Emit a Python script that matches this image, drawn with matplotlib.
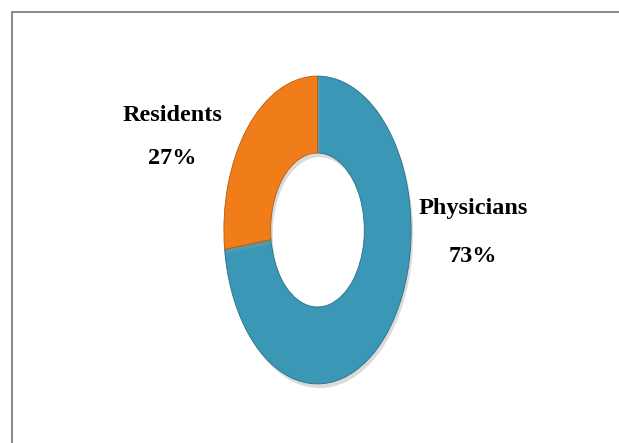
import matplotlib
matplotlib.use("Agg")
import matplotlib.pyplot as plt
from matplotlib.patches import Rectangle
import matplotlib.patheffects as pe

W, H = 619, 443

groups = ["Physicians", "Residents"]
shares = [73, 27]
colors = ["#3a97b6", "#f07d1a"]

fig = plt.figure(figsize=(W / 100, H / 100), dpi=100)

# frame drawn around the chart area
fig.patches.append(Rectangle((12 / W, -0.05), 1.1, 1 - 12 / H + 0.05,
                             transform=fig.transFigure, fill=False,
                             edgecolor="#8c8c8c", linewidth=1.5))

# donut is stretched vertically, so the axes box sets its shape
ax = fig.add_axes([222 / W, 56 / H, 191 / W, 314 / H])
wedges, _ = ax.pie(shares, colors=colors, startangle=90, counterclock=False,
                   radius=1.0,
                   wedgeprops=dict(width=0.5, edgecolor="#2a6f86", linewidth=0.6))
wedges[1].set_edgecolor("#b85c10")
for w in wedges:
    w.set_path_effects([pe.SimplePatchShadow(offset=(1.5, -3), shadow_rgbFace="#999999",
                                             alpha=0.35), pe.Normal()])
ax.set_aspect("auto")
ax.set_xlim(-1.02, 1.02)
ax.set_ylim(-1.02, 1.02)
ax.axis("off")

font = dict(family="Liberation Serif", fontweight="bold", fontsize=17.5,
            ha="center", va="baseline", color="black")

label_pos = {"Residents": (172, 121, 164), "Physicians": (473, 214, 262)}
for name, pct in zip(groups, shares):
    x, y1, y2 = label_pos[name]
    fig.text(x / W, 1 - y1 / H, name, **font)
    fig.text(x / W, 1 - y2 / H, f"{pct}%", **font)

fig.savefig("out.png", dpi=100)
